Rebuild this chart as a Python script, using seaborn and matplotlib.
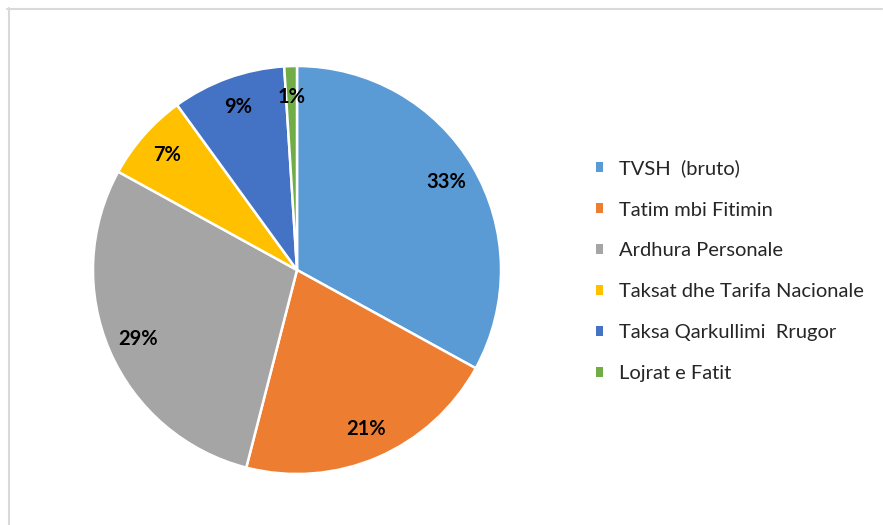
import matplotlib
matplotlib.use("Agg")
import matplotlib.pyplot as plt
from matplotlib.lines import Line2D
from matplotlib.patches import Patch
import seaborn as sns

# Të dhënat
kategorite = ["TVSH  (bruto)", "Tatim mbi Fitimin", "Ardhura Personale",
              "Taksat dhe Tarifa Nacionale", "Taksa Qarkullimi  Rrugor", "Lojrat e Fatit"]
perqindjet = [33, 21, 29, 7, 9, 1]
ngjyrat = ["#5B9BD5", "#ED7D31", "#A5A5A5", "#FFC000", "#4472C4", "#70AD47"]

sns.set_theme(style="white")
plt.rcParams["font.family"] = ["Lato", "DejaVu Sans"]
palette = sns.color_palette(ngjyrat)

W, H = 883, 525
fig = plt.figure(figsize=(W / 100, H / 100), dpi=100)

# pie area (pixels): center ~(297, 270), radius ~204
cx, cy, r = 297, 270, 204
ax = fig.add_axes([(cx - r) / W, (H - cy - r) / H, 2 * r / W, 2 * r / H])
wedges, texts, autotexts = ax.pie(
    perqindjet, colors=palette, startangle=90, counterclock=False,
    autopct="%1.0f%%", pctdistance=0.85,
    wedgeprops=dict(edgecolor="white", linewidth=1.8),
    textprops=dict(fontsize=14.5, fontweight="bold", color="#000000"),
)
ax.set_xlim(-1, 1)
ax.set_ylim(-1, 1)
ax.axis("off")

handles = [Patch(facecolor=c, edgecolor="none") for c in palette]
fig.legend(handles, kategorite, loc="center left", bbox_to_anchor=(596 / W, 1 - 271 / H),
           frameon=False, fontsize=14.5, handlelength=0.36, handleheight=0.36,
           handletextpad=0.8, labelspacing=1.19, borderpad=0, borderaxespad=0)

# kornizë e hollë gri (lart dhe majtas)
fig.add_artist(Line2D([7 / W, 882 / W], [1 - 8.5 / H, 1 - 8.5 / H], color="#d9d9d9", lw=1.5))
fig.add_artist(Line2D([8.5 / W, 8.5 / W], [1 - 8 / H, 0], color="#d9d9d9", lw=1.5))

fig.savefig("out.png", dpi=100)
